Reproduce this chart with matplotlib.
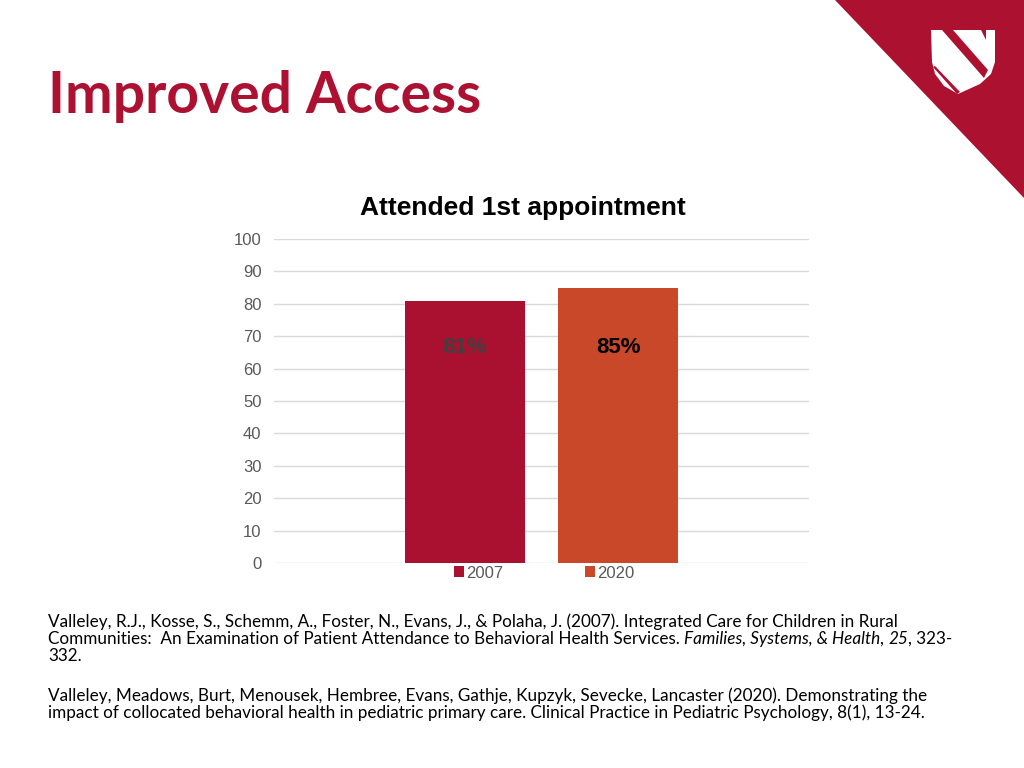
import matplotlib
matplotlib.use("Agg")
import matplotlib.pyplot as plt
from matplotlib.patches import Polygon

# ---- data ----
series = ["2007", "2020"]
values = [81, 85]
value_labels = ["81%", "85%"]
label_colors = ["#404040", "#000000"]
bar_colors = ["#AA1130", "#C9482A"]
yticks = [0, 10, 20, 30, 40, 50, 60, 70, 80, 90, 100]
chart_title = "Attended 1st appointment"
slide_title = "Improved Access"

W, H = 1024, 768
fig = plt.figure(figsize=(W / 100, H / 100), dpi=100)
fig.patch.set_facecolor("white")

# background overlay axes in pixel coords
bg = fig.add_axes([0, 0, 1, 1])
bg.set_xlim(0, W)
bg.set_ylim(H, 0)
bg.axis("off")
RED = "#AD1130"
bg.add_patch(Polygon([(835, 0), (1024, 0), (1024, 198)], closed=True,
                     facecolor=RED, edgecolor="none"))
# simplified shield logo
shield = [(931, 30), (995, 30), (995, 62), (991, 74), (980, 84), (958, 94),
          (944, 86), (935, 74), (932, 62)]
bg.add_patch(Polygon(shield, closed=True, facecolor="white", edgecolor="none"))
bg.add_patch(Polygon([(942, 30), (953, 30), (988, 70), (984, 78)], closed=True,
                     facecolor=RED, edgecolor="none"))
bg.add_patch(Polygon([(981, 30), (986, 30), (986, 40)], closed=True,
                     facecolor=RED, edgecolor="none"))
bg.add_patch(Polygon([(933, 67), (935, 66), (960, 92), (957, 94)], closed=True,
                     facecolor=RED, edgecolor="none"))

bg.text(48, 113, slide_title, fontsize=41, fontweight="bold", family="Lato",
        color="#AD1132", va="baseline", ha="left")

# ---- chart ----
x0, x1, ytop, ybot = 274, 809, 239, 563
ax = fig.add_axes([x0 / W, 1 - ybot / H, (x1 - x0) / W, (ybot - ytop) / H])
ax.set_xlim(0, 1)
ax.set_ylim(0, 100)
positions = [0.357, 0.643]
width = 0.224
for p, v, c, s in zip(positions, values, bar_colors, series):
    ax.bar(p, v, width=width, color=c, label=s, zorder=3)
label_y = 66.5
for p, lab, lc in zip(positions, value_labels, label_colors):
    ax.text(p, label_y, lab, ha="center", va="center", fontsize=16,
            fontweight="bold", color=lc, family="Liberation Sans", zorder=4)
ax.set_yticks(yticks)
ax.set_yticklabels([str(t) for t in yticks], family="Liberation Sans",
                   fontsize=12, color="#595959")
ax.tick_params(axis="y", length=0, pad=9)
ax.set_xticks([])
ax.grid(axis="y", color="#D9D9D9", linewidth=1, zorder=0)
for sp in ax.spines.values():
    sp.set_visible(False)

fig.text(523 / W, 1 - 215 / H, chart_title, ha="center", va="baseline",
         fontsize=19, fontweight="bold", family="Liberation Sans", color="black")

leg = ax.legend(loc="upper center", bbox_to_anchor=(0.505, -0.008), ncol=2,
                frameon=False, handlelength=0.6, handleheight=0.6,
                handletextpad=0.15, columnspacing=4.9, borderaxespad=0,
                borderpad=0,
                prop={"family": "Liberation Sans", "size": 12})
for t in leg.get_texts():
    t.set_color("#595959")

# ---- citations ----
cite_fs = 12.35
cite_font = "Lato"

def draw_line(y, pieces):
    fig.canvas.draw()
    r = fig.canvas.get_renderer()
    x = 48
    for txt, style in pieces:
        t = bg.text(x, y, txt, fontsize=cite_fs, family=cite_font, style=style,
                    color="black", va="center", ha="left")
        bb = t.get_window_extent(renderer=r)
        x += bb.width

draw_line(622, [("Valleley, R.J., Kosse, S., Schemm, A., Foster, N., Evans, J., & Polaha, J. (2007). Integrated Care for Children in Rural", "normal")])
draw_line(639, [("Communities:  An Examination of Patient Attendance to Behavioral Health Services. ", "normal"),
                ("Families, Systems, & Health", "italic"),
                (", ", "normal"),
                ("25", "italic"),
                (", 323-", "normal")])
draw_line(656, [("332.", "normal")])
draw_line(696, [("Valleley, Meadows, Burt, Menousek, Hembree, Evans, Gathje, Kupzyk, Sevecke, Lancaster (2020). Demonstrating the", "normal")])
draw_line(713, [("impact of collocated behavioral health in pediatric primary care. Clinical Practice in Pediatric Psychology, 8(1), 13-24.", "normal")])

fig.savefig("out.png", dpi=100)
